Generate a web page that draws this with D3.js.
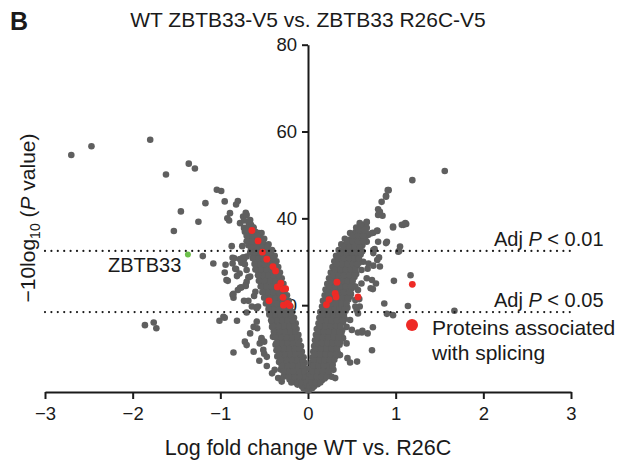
<!DOCTYPE html>
<html><head><meta charset="utf-8">
<script src="https://cdn.jsdelivr.net/npm/d3@7"></script>
<style>body{margin:0;background:#fff} text{font-family:"Liberation Sans",Arial,Helvetica,sans-serif}</style>
</head><body><svg id="c" width="630" height="465"></svg>
<script>
const xTicks=[-3,-2,-1,0,1,2,3];
const yTicks=[20,40,60,80];
const thresholds=[{label:"0.01",value:32.5},{label:"0.05",value:18.4}];
const highlight=[{name:"ZBTB33",x:-1.37,y:31.7}];

const grayOutliers=[[-2.70,54.6],[-2.47,56.6],[-1.80,58.1],[-1.36,52.6],[-1.29,51.5],[-1.62,50.1],[-1.04,46.6],[-0.99,46.3],[-1.17,43.5],[-1.45,41.6],[-1.25,39.2],[-1.53,37.1],[-1.20,31.3],[-1.08,29.6],[-1.86,15.4],[-1.76,16.0],[-1.73,14.7],[-1.01,16.4],
[-0.95,43.9],[-0.80,44.0],[-0.82,43.2],[-0.89,41.2],[-0.92,40.0],[-0.90,39.5],[-0.775,38.9],[-0.71,41.3],[-0.74,40.4],[-0.70,40.8],[-0.87,33.6],[-0.75,33.6],[-0.86,30.9],[-0.94,29.3],[-0.86,29.6],[-0.76,29.8],[-0.70,31.2],[-0.73,30.6],[-0.95,27.5],[-0.93,25.8],[-0.82,28.3],[-0.78,27.3],[-0.70,28.1],[-0.68,26.4],[-0.86,22.4],[-0.85,21.7],[-0.80,23.5],[-0.76,24.1],[-0.71,24.7],[-0.73,21.0],[-0.68,21.0],[-0.64,19.7],[-0.59,19.5],
[-0.66,39.6],[-0.65,38.5],[-0.63,37.9],[-0.60,36.9],[-0.68,36.6],[-0.53,36.6],[-0.55,35.4],[-0.51,34.1],[-0.47,33.5],[-0.84,30.8],[-0.775,30.6],[-0.74,31.0],[-0.72,29.4],[-0.83,28.4],[-0.81,26.7],[-0.66,26.6],[-0.70,25.4],
[-0.965,17.3],[-0.66,13.5],[-0.62,15.0],[-0.585,16.2],[-0.72,11.6],[-0.70,10.8],[-0.85,9.1],[-0.55,11.2],[-0.53,12.4],[-0.51,9.7],[-0.47,8.1],[-0.555,7.2],[-0.41,4.3],[-0.38,5.1],[-0.34,3.2],[-0.30,2.4],[-0.28,3.5],
[-0.95,17.1],[-0.81,16.4],[-0.70,18.3],[-0.585,19.3],[-0.57,19.7],[-0.615,22.1],[-0.60,23.1],[-0.71,24.4],[-0.775,24.0],[-0.85,22.6],[-0.915,25.6],[-0.58,14.7],[-0.53,12.1],[-0.50,11.6],[-0.62,9.3],[-0.50,8.8],[-0.47,6.0],[-0.44,18.1],[-0.40,16.6],[-0.41,15.0],[-0.38,13.5],[-0.40,12.7],
[1.56,50.9],[1.19,48.8],[0.92,46.5],[0.89,45.2],[0.84,43.8],[0.80,42.1],[0.82,41.5],[0.85,40.6],[0.80,40.8],[1.09,38.5],[1.12,38.7],[0.97,37.9],[0.67,39.1],[0.63,38.5],[0.79,37.2],[0.745,36.7],[0.69,36.2],[0.61,35.8],[0.67,34.6],[0.80,34.6],[0.89,34.3],[1.05,33.5],[1.03,32.3],[0.76,32.9],[0.745,32.7],[0.81,31.0],[0.63,30.0],[0.69,29.6],[0.745,29.1],[0.68,28.4],[0.61,28.1],[0.67,26.2],[0.61,25.0],[1.17,26.9],[0.98,25.6],[0.74,23.7],[0.87,20.4],[1.14,19.8],[1.67,18.7],[0.90,18.0],[0.97,17.7],[0.74,14.9],[0.715,23.9],[0.73,9.6],[0.615,13.7],[0.68,13.5],[0.56,7.0],[0.48,6.8],[0.45,7.8],[0.62,14.1],[0.57,13.7],
[0.73,25.8],[0.775,25.0],[0.82,28.9],[0.79,30.4],[0.745,32.0],[0.54,24.3],[0.57,23.5],[0.54,21.2],[0.59,19.7],[0.555,18.9],[0.48,16.6],[0.44,15.0],[0.50,14.3],[0.40,12.4],[0.44,11.2],[0.33,9.7],[0.365,8.5],[0.29,5.1],[0.27,3.5],[0.31,3.2],
[0.49,22.6],[0.585,21.4],[0.57,18.1],[0.54,19.7],[0.89,45.0],[0.91,46.5],[0.59,38.9],[0.67,39.2],[0.54,36.2],[0.73,36.6],[0.79,37.1],[0.90,34.6],[0.97,38.1],[1.07,38.5],[1.11,38.9],[1.04,32.5]];

const grayLeftArm=[[-0.01,0.5],[-0.05,0.8],
[-0.02,1.5],[-0.07,1.3],[-0.12,1.7],
[-0.01,2.8],[-0.06,2.6],[-0.11,3.0],[-0.16,2.7],[-0.21,2.9],
[-0.02,4.1],[-0.08,4.3],[-0.13,3.9],[-0.19,4.2],[-0.25,4.0],
[-0.03,5.4],[-0.09,5.2],[-0.15,5.6],[-0.21,5.3],[-0.27,5.5],[-0.31,5.2],
[-0.04,6.7],[-0.10,6.9],[-0.16,6.6],[-0.22,6.8],[-0.28,6.5],[-0.33,6.9],
[-0.05,8.0],[-0.11,8.2],[-0.17,7.9],[-0.23,8.1],[-0.29,7.8],[-0.35,8.2],
[-0.07,9.3],[-0.13,9.1],[-0.19,9.5],[-0.25,9.2],[-0.31,9.4],[-0.36,9.6],
[-0.08,10.6],[-0.14,10.8],[-0.20,10.5],[-0.26,10.7],[-0.32,10.4],[-0.37,10.9],
[-0.10,11.9],[-0.16,11.7],[-0.22,12.1],[-0.28,11.8],[-0.34,12.0],
[-0.11,13.2],[-0.17,13.4],[-0.23,13.1],[-0.29,13.3],[-0.35,13.0],[-0.38,13.6],
[-0.13,14.5],[-0.19,14.3],[-0.25,14.7],[-0.31,14.4],[-0.37,14.6],
[-0.14,15.8],[-0.20,16.0],[-0.26,15.7],[-0.32,15.9],[-0.38,15.6],[-0.41,16.1],
[-0.16,17.1],[-0.22,16.9],[-0.28,17.3],[-0.34,17.0],[-0.40,17.2],
[-0.18,18.4],[-0.24,18.6],[-0.30,18.3],[-0.36,18.5],[-0.42,18.2],
[-0.20,19.7],[-0.26,19.5],[-0.32,19.9],[-0.38,19.6],[-0.44,19.8],
[-0.22,21.0],[-0.28,21.2],[-0.34,20.9],[-0.40,21.1],[-0.46,20.8],
[-0.24,22.3],[-0.30,22.1],[-0.36,22.5],[-0.42,22.2],[-0.48,22.4],
[-0.26,23.6],[-0.32,23.8],[-0.38,23.5],[-0.44,23.7],[-0.50,23.4],
[-0.28,24.9],[-0.34,24.7],[-0.40,25.1],[-0.46,24.8],[-0.52,25.0],
[-0.30,26.2],[-0.36,26.4],[-0.42,26.1],[-0.48,26.3],[-0.54,26.0],
[-0.32,27.5],[-0.38,27.3],[-0.44,27.7],[-0.50,27.4],[-0.56,27.6],
[-0.34,28.8],[-0.40,29.0],[-0.46,28.7],[-0.52,28.9],[-0.58,28.6],
[-0.36,30.1],[-0.42,29.9],[-0.48,30.3],[-0.54,30.0],[-0.60,30.2],
[-0.38,31.4],[-0.44,31.6],[-0.50,31.3],[-0.56,31.5],[-0.62,31.2],
[-0.41,32.7],[-0.47,32.5],[-0.53,32.9],[-0.59,32.6],[-0.65,32.8],
[-0.45,34.0],[-0.51,34.2],[-0.57,33.9],[-0.63,34.1],[-0.68,33.8],
[-0.50,35.3],[-0.56,35.1],[-0.62,35.5],[-0.68,35.2],
[-0.56,36.6],[-0.62,36.8],[-0.68,36.5],[-0.72,36.9],
[-0.62,37.9],[-0.68,38.1],[-0.73,37.8],
[-0.68,39.2],[-0.73,39.5]];

// second, staggered set of rows inside the left arm: [y, x1, x2, ...]
const grayLeftFillRows=[[2.2,-0.04,-0.09,-0.14,-0.19],[3.5,-0.04,-0.10,-0.16,-0.22],[4.8,-0.05,-0.11,-0.17,-0.23,-0.28],[6.1,-0.06,-0.12,-0.18,-0.24,-0.30],[7.4,-0.07,-0.13,-0.19,-0.25,-0.31],[8.7,-0.09,-0.15,-0.21,-0.27,-0.33],[10.0,-0.10,-0.16,-0.22,-0.28,-0.34],[11.3,-0.12,-0.18,-0.24,-0.30,-0.36],[12.6,-0.13,-0.19,-0.25,-0.31,-0.37],[13.9,-0.15,-0.21,-0.27,-0.33,-0.39],[15.2,-0.16,-0.22,-0.28,-0.34,-0.40],[16.5,-0.18,-0.24,-0.30,-0.36,-0.42],[17.8,-0.20,-0.26,-0.32,-0.38,-0.44],[19.1,-0.22,-0.28,-0.34,-0.40,-0.45],[20.4,-0.24,-0.30,-0.36,-0.42,-0.48],[21.7,-0.26,-0.32,-0.38,-0.44,-0.50],[23.0,-0.28,-0.34,-0.40,-0.46,-0.52],[24.3,-0.30,-0.36,-0.42,-0.48,-0.54],[25.6,-0.32,-0.38,-0.44,-0.50,-0.56],[26.9,-0.34,-0.40,-0.46,-0.52,-0.57],[28.2,-0.36,-0.42,-0.48,-0.54,-0.60],[29.5,-0.38,-0.44,-0.50,-0.56,-0.61],[30.8,-0.40,-0.46,-0.52,-0.58,-0.63],[32.1,-0.43,-0.49,-0.55,-0.61,-0.66],[33.4,-0.47,-0.53,-0.59,-0.65],[34.7,-0.52,-0.58,-0.64,-0.70],[36.0,-0.58,-0.64,-0.70],[37.3,-0.64,-0.70]];

const grayRightArm=[[0.01,0.4],[0.05,0.9],
[0.02,1.5],[0.07,1.3],[0.11,1.8],
[0.01,2.8],[0.06,2.6],[0.11,3.0],[0.16,2.7],[0.19,3.1],
[0.02,4.1],[0.08,4.3],[0.13,3.9],[0.19,4.2],[0.24,4.0],
[0.03,5.4],[0.09,5.2],[0.15,5.6],[0.21,5.3],[0.26,5.6],
[0.04,6.7],[0.10,6.9],[0.16,6.6],[0.22,6.8],[0.28,6.5],
[0.05,8.0],[0.11,8.2],[0.17,7.9],[0.23,8.1],[0.29,7.8],[0.32,8.3],
[0.06,9.3],[0.12,9.1],[0.18,9.5],[0.24,9.2],[0.30,9.4],[0.34,9.0],
[0.07,10.6],[0.13,10.8],[0.19,10.5],[0.25,10.7],[0.31,10.4],[0.36,10.9],
[0.08,11.9],[0.14,11.7],[0.20,12.1],[0.26,11.8],[0.32,12.0],[0.37,11.6],
[0.09,13.2],[0.15,13.4],[0.21,13.1],[0.27,13.3],[0.33,13.0],[0.38,13.5],
[0.10,14.5],[0.16,14.3],[0.22,14.7],[0.28,14.4],[0.34,14.6],[0.39,14.2],
[0.12,15.8],[0.18,16.0],[0.24,15.7],[0.30,15.9],[0.36,15.6],[0.40,16.1],
[0.13,17.1],[0.19,16.9],[0.25,17.3],[0.31,17.0],[0.37,17.2],[0.42,16.8],
[0.14,18.4],[0.20,18.6],[0.26,18.3],[0.32,18.5],[0.38,18.2],[0.43,18.7],
[0.16,19.7],[0.22,19.5],[0.28,19.9],[0.34,19.6],[0.40,19.8],[0.45,19.4],
[0.17,21.0],[0.23,21.2],[0.29,20.9],[0.35,21.1],[0.41,20.8],[0.46,21.3],
[0.19,22.3],[0.25,22.1],[0.31,22.5],[0.37,22.2],[0.43,22.4],[0.48,22.0],
[0.20,23.6],[0.26,23.8],[0.32,23.5],[0.38,23.7],[0.44,23.4],[0.50,23.9],
[0.22,24.9],[0.28,24.7],[0.34,25.1],[0.40,24.8],[0.46,25.0],[0.51,24.6],
[0.24,26.2],[0.30,26.4],[0.36,26.1],[0.42,26.3],[0.48,26.0],[0.53,26.5],
[0.26,27.5],[0.32,27.3],[0.38,27.7],[0.44,27.4],[0.50,27.6],[0.55,27.2],
[0.28,28.8],[0.34,29.0],[0.40,28.7],[0.46,28.9],[0.52,28.6],[0.56,29.1],
[0.30,30.1],[0.36,29.9],[0.42,30.3],[0.48,30.0],[0.54,30.2],[0.58,29.8],
[0.32,31.4],[0.38,31.6],[0.44,31.3],[0.50,31.5],[0.56,31.2],[0.60,31.7],
[0.35,32.7],[0.41,32.5],[0.47,32.9],[0.53,32.6],[0.59,32.8],[0.62,32.4],
[0.38,34.0],[0.44,34.2],[0.50,33.9],[0.56,34.1],[0.62,33.8],
[0.42,35.3],[0.48,35.1],[0.54,35.5],[0.60,35.2],[0.65,35.4],
[0.48,36.6],[0.54,36.8],[0.60,36.5],[0.66,36.7],
[0.55,37.9],[0.61,38.1],[0.67,37.8]];

// second, staggered set of rows inside the right arm: [y, x1, x2, ...]
const grayRightFillRows=[[2.2,0.04,0.09,0.14],[3.5,0.04,0.10,0.16,0.21],[4.8,0.05,0.11,0.17,0.23],[6.1,0.06,0.12,0.18,0.24,0.28],[7.4,0.07,0.13,0.19,0.25,0.30],[8.7,0.08,0.14,0.20,0.26,0.32],[10.0,0.09,0.15,0.21,0.27,0.33],[11.3,0.10,0.16,0.22,0.28,0.34],[12.6,0.11,0.17,0.23,0.29,0.35],[13.9,0.12,0.18,0.24,0.30,0.36],[15.2,0.14,0.20,0.26,0.32,0.37],[16.5,0.15,0.21,0.27,0.33,0.39],[17.8,0.17,0.23,0.29,0.35,0.41],[19.1,0.18,0.24,0.30,0.36,0.42],[20.4,0.20,0.26,0.32,0.38,0.44],[21.7,0.21,0.27,0.33,0.39,0.45],[23.0,0.23,0.29,0.35,0.41,0.47],[24.3,0.25,0.31,0.37,0.43,0.49],[25.6,0.27,0.33,0.39,0.45,0.51],[26.9,0.29,0.35,0.41,0.47,0.53],[28.2,0.31,0.37,0.43,0.49,0.54],[29.5,0.33,0.39,0.45,0.51,0.56],[30.8,0.35,0.41,0.47,0.53,0.58],[32.1,0.38,0.44,0.50,0.56,0.60],[33.4,0.41,0.47,0.53,0.59],[34.7,0.45,0.51,0.57,0.63],[36.0,0.51,0.57,0.63],[37.3,0.58,0.64]];

const splicingPoints=[[-0.64,37.2],[-0.57,34.8],[-0.52,32.2],[-0.47,30.6],[-0.40,28.9],[-0.37,27.9],[-0.31,25.1],[-0.35,24.2],[-0.285,23.7],[-0.255,23.8],[-0.445,21.0],[-0.285,21.8],[-0.28,20.0],[-0.235,20.4],[-0.21,19.9],
[0.33,25.3],[0.31,22.7],[0.32,21.9],[0.24,21.3],[0.21,20.1],[0.57,21.9],[1.19,24.8]];

const svg=d3.select("#c");
const x=d3.scaleLinear().domain([-3,3]).range([45,571]);
const y=d3.scaleLinear().domain([0,80]).range([392,44.7]);
const ink="#1a1a1a";

// axes
const gx=svg.append("g").attr("transform","translate(0,392)")
 .call(d3.axisBottom(x).tickValues(xTicks).tickFormat(d3.format("d")).tickSize(7).tickSizeOuter(0).tickPadding(8));
const gy=svg.append("g").attr("transform","translate(308,0)")
 .call(d3.axisLeft(y).tickValues(yTicks).tickFormat(d3.format("d")).tickSize(6).tickSizeOuter(0).tickPadding(5));
[gx,gy].forEach(g=>{
 g.select(".domain").attr("stroke",ink).attr("stroke-width",2);
 g.selectAll(".tick line").attr("stroke",ink).attr("stroke-width",2);
 g.selectAll(".tick text").attr("fill",ink).style("font-size","18.5px").style("font-family",'"Liberation Sans",Arial,sans-serif');
});

// points
const expand=rows=>rows.flatMap(r=>r.slice(1).map(v=>[v,r[0]]));
const gray=grayOutliers.concat(grayLeftArm,expand(grayLeftFillRows),grayRightArm,expand(grayRightFillRows));
svg.append("g").selectAll("circle").data(gray).join("circle")
 .attr("cx",d=>x(d[0])).attr("cy",d=>y(d[1])).attr("r",3.3).attr("fill","#5f5f5f");
svg.append("g").selectAll("circle").data(splicingPoints).join("circle")
 .attr("cx",d=>x(d[0])).attr("cy",d=>y(d[1])).attr("r",3.4).attr("fill","#ee2a26");
svg.append("g").selectAll("circle").data(highlight).join("circle")
 .attr("cx",d=>x(d.x)).attr("cy",d=>y(d.y)).attr("r",3).attr("fill","#6cc04a");

// threshold lines
const th=svg.append("g");
thresholds.forEach(t=>{
 th.append("line").attr("x1",x(-3)).attr("x2",x(3)).attr("y1",y(t.value)).attr("y2",y(t.value))
  .attr("stroke",ink).attr("stroke-width",2.2).attr("stroke-dasharray","0,6.4").attr("stroke-linecap","round");
 const tx=th.append("text").attr("x",494).attr("y",y(t.value)-5).attr("fill",ink).style("font-size","20px");
 tx.append("tspan").text("Adj ");
 tx.append("tspan").attr("font-style","italic").text("P");
 tx.append("tspan").text(" < "+t.label);
});

// labels
svg.append("text").attr("x",108).attr("y",272).attr("fill",ink).style("font-size","20px").text(highlight[0].name);
svg.append("text").attr("x",308).attr("y",27).attr("text-anchor","middle").attr("fill",ink).style("font-size","21px").text("WT ZBTB33-V5 vs. ZBTB33 R26C-V5");
svg.append("text").attr("x",10).attr("y",30).attr("fill",ink).style("font-size","25px").style("font-weight","bold").text("B");
svg.append("text").attr("x",308).attr("y",455).attr("text-anchor","middle").attr("fill",ink).style("font-size","21.5px").text("Log fold change WT vs. R26C");
const yl=svg.append("text").attr("transform","translate(35,218) rotate(-90)").attr("text-anchor","middle").attr("fill",ink).style("font-size","21px");
yl.append("tspan").text("\u221210log");
yl.append("tspan").attr("dy",5).style("font-size","14px").text("10");
yl.append("tspan").attr("dy",-5).text(" (");
yl.append("tspan").attr("font-style","italic").text("P");
yl.append("tspan").text(" value)");

// legend
svg.append("circle").attr("cx",412).attr("cy",325).attr("r",6).attr("fill","#ee2a26");
svg.append("text").attr("x",432).attr("y",335).attr("fill",ink).style("font-size","21px").text("Proteins associated");
svg.append("text").attr("x",432).attr("y",360).attr("fill",ink).style("font-size","21px").text("with splicing");
</script></body></html>
